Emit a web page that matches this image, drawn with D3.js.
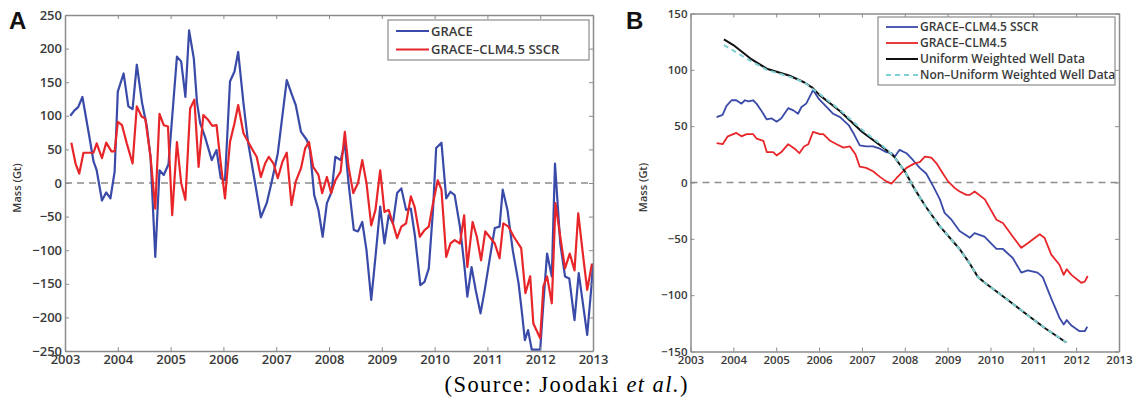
<!DOCTYPE html>
<html>
<head>
<meta charset="utf-8">
<title>GRACE mass anomalies</title>
<script src="https://d3js.org/d3.v7.min.js"></script>
<style>
  body { margin: 0; background: #fff; }
  svg text { font-family: "Open Sans", "Noto Sans", sans-serif; fill: #3a3a3a; font-weight: 600; }
  .axis path, .axis line { stroke: #8c8c8c; }
</style>
</head>
<body>
<svg width="1138" height="398"></svg>
<script>
// ---- Panel A data (decimal year, Gt) ----
let graceYears = [2003.10,2003.18,2003.25,2003.33,2003.45,2003.54,2003.60,2003.70,2003.78,2003.86,2003.94,2004.00,2004.11,2004.20,2004.28,2004.36,2004.46,2004.55,2004.62,2004.71,2004.79,2004.87,2004.96,2005.12,2005.20,2005.28,2005.35,2005.44,2005.50,2005.56,2005.65,2005.78,2005.87,2005.95,2006.03,2006.125,2006.21,2006.28,2006.38,2006.47,2006.60,2006.71,2006.82,2006.91,2007.03,2007.20,2007.29,2007.37,2007.47,2007.58,2007.64,2007.72,2007.80,2007.88,2007.96,2008.05,2008.12,2008.22,2008.30,2008.37,2008.47,2008.55,2008.63,2008.71,2008.80,2008.88,2008.97,2009.05,2009.13,2009.21,2009.29,2009.37,2009.46,2009.55,2009.63,2009.73,2009.81,2009.89,2009.97,2010.03,2010.13,2010.22,2010.30,2010.38,2010.48,2010.56,2010.62,2010.70,2010.78,2010.87,2010.95,2011.05,2011.14,2011.23,2011.29,2011.38,2011.48,2011.59,2011.65,2011.71,2011.77,2011.84,2012.00,2012.06,2012.13,2012.22,2012.28,2012.38,2012.47,2012.55,2012.65,2012.73,2012.81,2012.89,2012.97,2013.00];
let graceVals = [100,108,113,128,74,32,19,-26,-14,-23,17,136,163,114,110,176,119,84,39,-110,19,12,28,188,181,128,227,185,120,89,69,34,49,7,4,151,166,195,119,59,0,-51,-30,0,44,153,133,116,76,64,49,-18,-40,-80,-30,-13,39,34,59,0,-70,-72,-58,-100,-174,-110,-35,-90,-48,-60,-15,-8,-40,-38,-80,-152,-147,-127,-40,52,60,-23,-13,-18,-65,-120,-169,-125,-160,-194,-159,-110,-67,-65,-10,-40,-100,-149,-190,-234,-219,-248,-248,-179,-105,-139,29,-90,-139,-142,-204,-134,-180,-226,-154,-120];

let sscrYears = [2003.12,2003.20,2003.27,2003.35,2003.45,2003.54,2003.60,2003.70,2003.78,2003.88,2003.94,2004.00,2004.08,2004.17,2004.28,2004.36,2004.45,2004.52,2004.62,2004.71,2004.79,2004.87,2004.95,2005.03,2005.12,2005.20,2005.28,2005.37,2005.45,2005.53,2005.62,2005.71,2005.79,2005.87,2005.95,2006.03,2006.125,2006.21,2006.28,2006.38,2006.47,2006.57,2006.63,2006.71,2006.79,2006.86,2006.95,2007.03,2007.12,2007.20,2007.29,2007.37,2007.47,2007.55,2007.62,2007.70,2007.80,2007.87,2007.96,2008.04,2008.12,2008.22,2008.30,2008.37,2008.46,2008.55,2008.63,2008.71,2008.80,2008.88,2008.97,2009.05,2009.13,2009.21,2009.29,2009.37,2009.46,2009.55,2009.62,2009.72,2009.81,2009.89,2009.97,2010.06,2010.13,2010.22,2010.30,2010.38,2010.48,2010.56,2010.62,2010.72,2010.80,2010.88,2010.96,2011.04,2011.14,2011.23,2011.30,2011.40,2011.50,2011.64,2011.72,2011.81,2011.87,2012.00,2012.06,2012.13,2012.22,2012.29,2012.38,2012.47,2012.56,2012.65,2012.72,2012.80,2012.89,2012.98];
let sscrVals = [60,29,14,45,45,45,59,37,60,47,47,91,86,59,29,114,99,96,39,-38,103,86,84,-48,61,0,-25,111,124,24,101,94,85,86,29,-23,61,89,116,74,61,47,39,9,29,39,29,7,32,45,-33,2,22,52,61,24,12,-15,9,-15,4,17,76,24,-15,0,34,0,-63,-40,19,-43,-40,-60,-82,-65,-60,-20,-35,-80,-70,-65,-30,4,-10,-110,-90,-85,-90,-48,-125,-58,-80,-115,-72,-80,-90,-112,-60,-65,-80,-97,-164,-139,-209,-231,-154,-139,-179,-30,-80,-127,-105,-130,-45,-100,-159,-120];

// ---- Panel B data ----
let bSscrYears = [2003.61,2003.75,2003.84,2003.96,2004.07,2004.19,2004.27,2004.35,2004.46,2004.54,2004.65,2004.78,2004.89,2005.01,2005.12,2005.28,2005.40,2005.51,2005.59,2005.70,2005.86,2006.00,2006.18,2006.33,2006.49,2006.69,2006.80,2006.95,2007.10,2007.26,2007.42,2007.57,2007.69,2007.77,2007.88,2008.04,2008.19,2008.35,2008.50,2008.66,2008.82,2008.93,2009.09,2009.28,2009.52,2009.63,2009.86,2010.14,2010.29,2010.52,2010.72,2010.87,2011.10,2011.22,2011.42,2011.61,2011.71,2011.78,2011.89,2012.08,2012.20,2012.26];
let bSscrVals = [58,60,68,73,73,70,73,72,73,70,64,56,57,54,57,66,64,61,67,70,82,74,67,61,58,51,44,33,32,32,30,27,26,23,29,26,20,13,8,-3,-15,-27,-33,-43,-49,-45,-48,-59,-59,-67,-80,-78,-80,-84,-103,-120,-126,-122,-127,-132,-132,-128];

let bClmYears = [2003.61,2003.75,2003.87,2004.07,2004.19,2004.31,2004.46,2004.54,2004.70,2004.78,2004.93,2005.01,2005.12,2005.28,2005.43,2005.54,2005.65,2005.75,2005.86,2006.02,2006.10,2006.26,2006.41,2006.57,2006.72,2006.85,2006.95,2007.10,2007.26,2007.42,2007.57,2007.69,2007.81,2008.04,2008.23,2008.35,2008.47,2008.62,2008.74,2008.89,2009.01,2009.17,2009.28,2009.44,2009.52,2009.63,2009.87,2010.14,2010.29,2010.52,2010.72,2010.87,2011.15,2011.26,2011.42,2011.61,2011.71,2011.78,2011.89,2012.12,2012.20,2012.27];
let bClmVals = [35,34,41,44,41,43,43,39,37,27,27,24,27,34,30,26,32,34,45,43,43,37,34,31,32,25,14,13,10,5,1,-1,4,13,17,18,23,22,17,8,1,-5,-8,-11,-11,-8,-15,-33,-36,-48,-58,-54,-46,-49,-64,-73,-82,-77,-82,-89,-88,-83];

let wellYears = [2003.78,2004.00,2004.40,2004.78,2005.30,2005.65,2005.85,2006.00,2006.50,2007.00,2007.50,2007.75,2008.00,2008.25,2008.50,2008.82,2009.28,2009.50,2009.71,2009.87,2010.29,2010.84,2011.30,2011.77];
let uniformVals = [127,122,110,101,95,89,84,78,63,45,31,23,10,-7,-22,-39,-59,-71,-84,-89,-101,-117,-130,-142];
let nonUniformVals = [122,117,108,100,94,89,83,79,64,47,32,23,10,-7,-22,-39,-59,-71,-84,-89,-101,-117,-130,-142];

let yearTicks = d3.range(2003, 2014);

let svg = d3.select("svg");

function zip(xs, ys) { return xs.map((x, i) => [x, ys[i]]); }

function drawPanel(cfg) {
  let x = d3.scaleLinear().domain([2003, 2013]).range([cfg.left, cfg.right]);
  let y = d3.scaleLinear().domain(cfg.yDomain).range([cfg.bottom, cfg.top]);
  let g = svg.append("g");

  // zero line
  g.append("line")
    .attr("x1", cfg.left).attr("x2", cfg.right)
    .attr("y1", y(0)).attr("y2", y(0))
    .attr("stroke", "#8c8c8c").attr("stroke-width", 1.6)
    .attr("stroke-dasharray", "7,5");

  let line = d3.line().x(d => x(d[0])).y(d => y(d[1]));
  cfg.series.forEach(s => {
    g.append("path")
      .attr("d", line(zip(s.xs, s.ys)))
      .attr("fill", "none")
      .attr("stroke", s.color)
      .attr("stroke-width", s.width)
      .attr("stroke-dasharray", s.dash || null)
      .attr("stroke-linejoin", "round");
  });

  // axes with inward ticks
  let fs = cfg.fontSize;
  g.append("g").attr("class", "axis").attr("transform", "translate(0," + cfg.bottom + ")")
    .call(d3.axisBottom(x).tickValues(yearTicks).tickFormat(d3.format("d")).tickSize(-4).tickSizeOuter(0).tickPadding(4));
  g.append("g").attr("class", "axis").attr("transform", "translate(" + cfg.left + ",0)")
    .call(d3.axisLeft(y).tickValues(cfg.yTicks).tickFormat(d => d < 0 ? "\u2212" + Math.abs(d) : d).tickSize(-4).tickSizeOuter(0).tickPadding(3));
  g.append("g").attr("class", "axis").attr("transform", "translate(0," + cfg.top + ")")
    .call(d3.axisTop(x).tickValues(yearTicks).tickFormat("").tickSize(-4).tickSizeOuter(0));
  g.append("g").attr("class", "axis").attr("transform", "translate(" + cfg.right + ",0)")
    .call(d3.axisRight(y).tickValues(cfg.yTicks).tickFormat("").tickSize(-4).tickSizeOuter(0));
  g.selectAll(".axis path").attr("stroke-width", 1.5);
  g.selectAll(".axis text")
    .style("font-size", fs + "px")
    .style("font-family", "'Open Sans', sans-serif")
    .style("font-weight", "600")
    .attr("fill", "#3a3a3a");

  // y label
  g.append("text")
    .attr("transform", "translate(" + cfg.ylabX + "," + ((cfg.top + cfg.bottom) / 2 + 5) + ") rotate(-90)")
    .attr("text-anchor", "middle")
    .style("font-size", "11px")
    .text("Mass (Gt)");

  // panel letter
  g.append("text")
    .attr("x", cfg.letterX).attr("y", 29)
    .style("font-family", "'Liberation Sans', Arial, sans-serif")
    .style("font-weight", "bold").style("font-size", "24px")
    .style("fill", "#111")
    .text(cfg.letter);

  // legend
  let L = cfg.legend;
  g.append("rect")
    .attr("x", L.x).attr("y", L.y).attr("width", L.w).attr("height", L.h)
    .attr("fill", "#fff").attr("stroke", "#8c8c8c").attr("stroke-width", 1.2);
  cfg.series.slice().sort((a, b) => a.order - b.order).forEach((s, i) => {
    let yy = L.y + L.first + i * L.step;
    g.append("line")
      .attr("x1", L.x + 8).attr("x2", L.x + 8 + L.lineLen)
      .attr("y1", yy).attr("y2", yy)
      .attr("stroke", s.color).attr("stroke-width", s.width)
      .attr("stroke-dasharray", s.dash || null);
    g.append("text")
      .attr("x", L.x + 10 + L.lineLen).attr("y", yy + L.fs * 0.36)
      .style("font-size", L.fs + "px")
      .text(s.name);
  });
}

drawPanel({
  letter: "A", letterX: 9,
  left: 65, right: 593, top: 15, bottom: 351,
  yDomain: [-250, 250], yTicks: d3.range(-250, 251, 50),
  fontSize: 13, ylabX: 21,
  series: [
    { name: "GRACE", xs: graceYears, ys: graceVals, color: "#3a4aa8", width: 2.2, order: 0 },
    { name: "GRACE\u2013CLM4.5 SSCR", xs: sscrYears, ys: sscrVals, color: "#e8262a", width: 2.2, order: 1 }
  ],
  legend: { x: 388, y: 20, w: 201, h: 40, first: 11, step: 18.5, lineLen: 33, fs: 13 }
});

drawPanel({
  letter: "B", letterX: 626,
  left: 690.5, right: 1119, top: 13.5, bottom: 351.5,
  yDomain: [-150, 150], yTicks: d3.range(-150, 151, 50),
  fontSize: 11.5, ylabX: 647,
  series: [
    { name: "GRACE\u2013CLM4.5 SSCR", xs: bSscrYears, ys: bSscrVals, color: "#3a4aa8", width: 1.8, order: 0 },
    { name: "GRACE\u2013CLM4.5", xs: bClmYears, ys: bClmVals, color: "#e8262a", width: 1.8, order: 1 },
    { name: "Uniform Weighted Well Data", xs: wellYears, ys: uniformVals, color: "#111", width: 2, order: 2 },
    { name: "Non\u2013Uniform Weighted Well Data", xs: wellYears, ys: nonUniformVals, color: "#7fd0d2", width: 2, dash: "5,4", order: 3 }
  ],
  legend: { x: 878, y: 17, w: 237, h: 68, first: 10, step: 16, lineLen: 32, fs: 12 }
});

// source caption
let cap = svg.append("text")
  .attr("x", 566).attr("y", 392)
  .attr("text-anchor", "middle")
  .attr("textLength", 243)
  .attr("lengthAdjust", "spacing")
  .style("font-family", "'Liberation Serif', 'Times New Roman', serif")
  .style("font-weight", "normal")
  .style("font-size", "22.5px").style("fill", "#000");
cap.append("tspan").text("(Source: Joodaki ");
cap.append("tspan").style("font-style", "italic").text("et al.");
cap.append("tspan").text(")");
</script>
</body>
</html>
